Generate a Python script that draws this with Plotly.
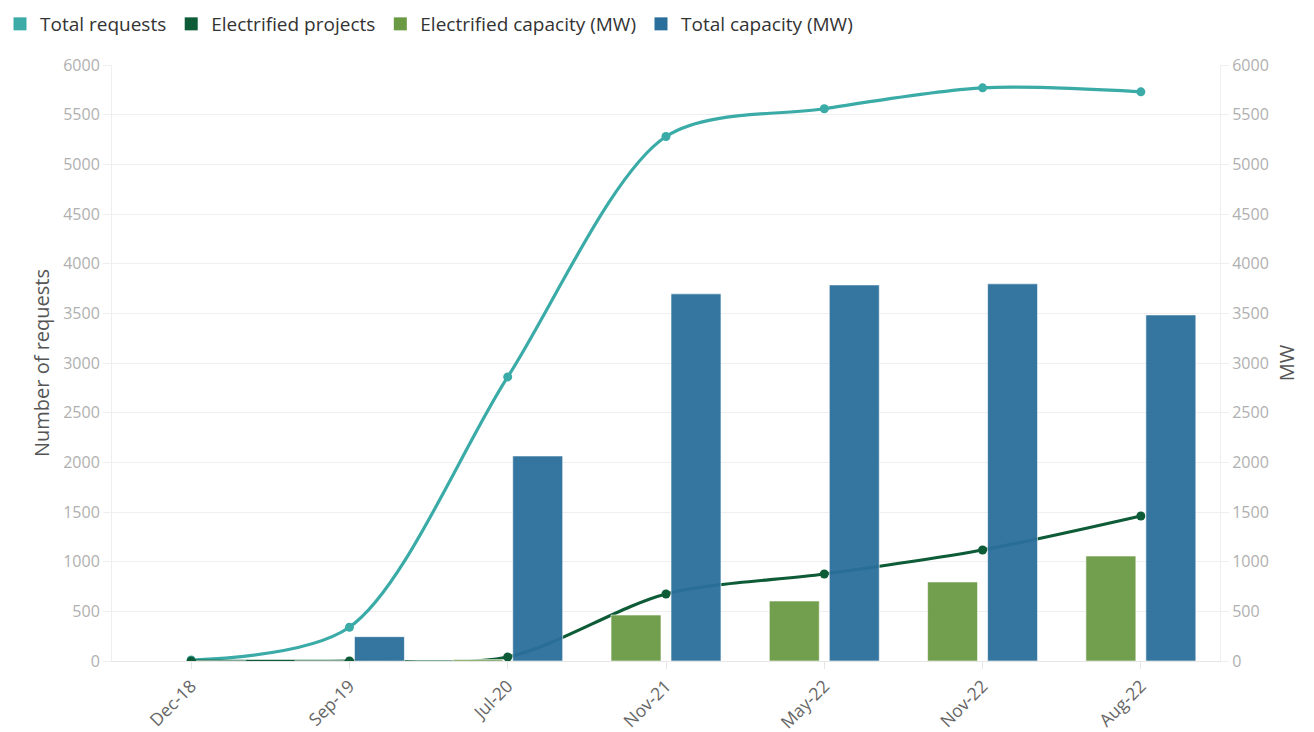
import plotly.graph_objects as go

# Reporting periods
periods = ["Dec-18", "Sep-19", "Jul-20", "Nov-21", "May-22", "Nov-22", "Aug-22"]

# Number of requests (left axis)
total_requests = [10, 340, 2860, 5280, 5560, 5770, 5730]
electrified_projects = [0, 0, 40, 675, 876, 1118, 1460]

# Capacity in MW (right axis)
electrified_capacity = [0, 0, 15, 463, 604, 796, 1057]
total_capacity = [0, 245, 2064, 3696, 3786, 3797, 3484]

C_REQ = "#3aaba7"
C_PROJ = "#0e5c37"
C_ECAP = "#6b9a44"
C_TCAP = "#2a6f9b"

FONT = "Open Sans"

fig = go.Figure()

# Bars on the MW axis
fig.add_trace(go.Bar(
    x=periods, y=electrified_capacity, name="Electrified capacity (MW)",
    yaxis="y2", marker=dict(color=C_ECAP, opacity=0.95,
                            line=dict(color="rgba(255,255,255,0.6)", width=1)),
    showlegend=False,
))
fig.add_trace(go.Bar(
    x=periods, y=total_capacity, name="Total capacity (MW)",
    yaxis="y2", marker=dict(color=C_TCAP, opacity=0.95,
                            line=dict(color="rgba(255,255,255,0.6)", width=1)),
    showlegend=False,
))

# Smoothed lines on the requests axis
fig.add_trace(go.Scatter(
    x=periods, y=total_requests, name="Total requests", mode="lines+markers",
    line=dict(color=C_REQ, width=3.2, shape="spline", smoothing=0.85),
    marker=dict(size=9, color=C_REQ), showlegend=False,
))
fig.add_trace(go.Scatter(
    x=periods, y=electrified_projects, name="Electrified projects", mode="lines+markers",
    line=dict(color=C_PROJ, width=3.2, shape="spline", smoothing=0.85),
    marker=dict(size=9, color=C_PROJ), showlegend=False,
))

# Legend entries drawn as coloured swatches
for name, col in [("Total requests", C_REQ), ("Electrified projects", C_PROJ),
                  ("Electrified capacity (MW)", C_ECAP), ("Total capacity (MW)", C_TCAP)]:
    fig.add_trace(go.Scatter(
        x=[None], y=[None], name=name, mode="markers",
        marker=dict(symbol="square", size=13, color=col),
        showlegend=True,
    ))

tick_vals = list(range(0, 6001, 500))

fig.update_layout(
    width=1314, height=732,
    margin=dict(l=112, r=94, t=65, b=71),
    paper_bgcolor="white", plot_bgcolor="white",
    font=dict(family=FONT, size=16, color="#555"),
    barmode="group", bargap=0.242, bargroupgap=0.167,
    showlegend=True,
    legend=dict(
        orientation="h", xref="container", yref="container",
        x=0.0, xanchor="left", y=1 - 24 / 732, yanchor="middle",
        font=dict(family=FONT, size=19, color="#333"),
        itemwidth=30, tracegroupgap=0, traceorder="normal",
        bgcolor="rgba(0,0,0,0)",
    ),
    xaxis=dict(
        type="category", tickangle=-45, showgrid=False, automargin=False,
        showline=True, linecolor="#e6e6e6", linewidth=1,
        ticks="outside", ticklen=7, tickcolor="#e6e6e6",
        tickfont=dict(family=FONT, size=17.5, color="#666"),
        range=[-0.5, 6.5],
    ),
    yaxis=dict(
        title=dict(text="Number of requests", font=dict(family=FONT, size=20, color="#555"),
                   standoff=8),
        range=[0, 6000], tickvals=tick_vals, automargin=False,
        showgrid=True, gridcolor="#efefef", gridwidth=1,
        showline=True, linecolor="#efefef",
        ticks="outside", ticklen=8, tickcolor="#efefef",
        tickfont=dict(family=FONT, size=16, color="#b0b0b0"),
        zeroline=False,
    ),
    yaxis2=dict(
        title=dict(text="MW", font=dict(family=FONT, size=20, color="#555"), standoff=12),
        overlaying="y", side="right", automargin=False,
        range=[0, 6000], tickvals=tick_vals,
        showgrid=False, showline=True, linecolor="#efefef",
        ticks="outside", ticklen=8, tickcolor="#efefef",
        tickfont=dict(family=FONT, size=16, color="#b0b0b0"),
        zeroline=False,
    ),
)

fig.write_html("out.html")
